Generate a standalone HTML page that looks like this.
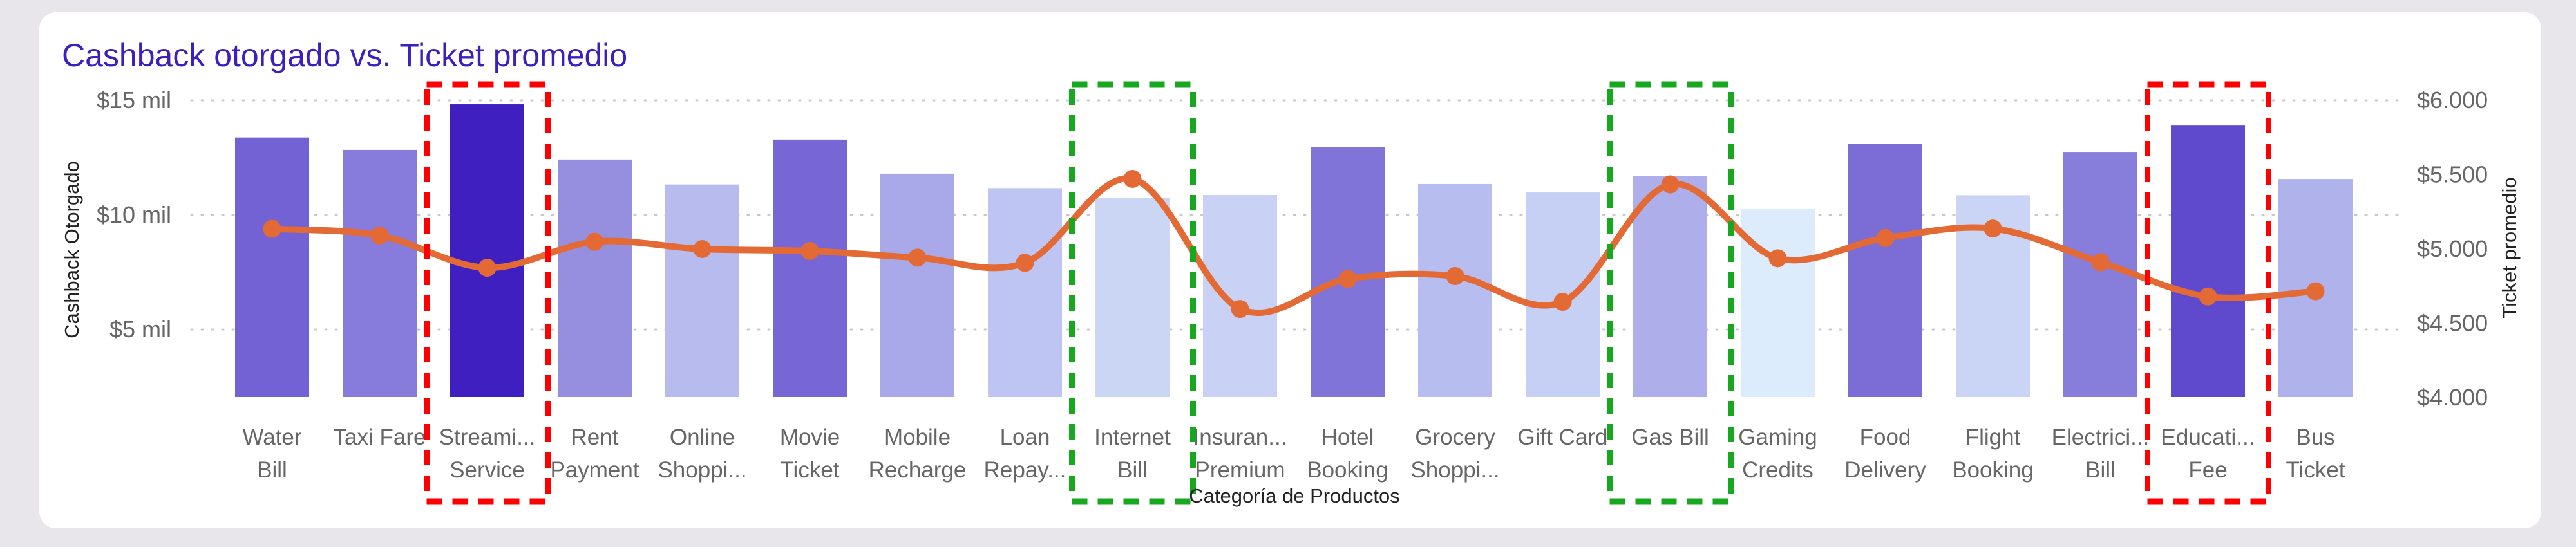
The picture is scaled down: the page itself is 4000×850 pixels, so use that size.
<!DOCTYPE html>
<html><head><meta charset="utf-8"><style>
html,body{margin:0;padding:0;background:#e8e6eb;width:4000px;height:850px;overflow:hidden}
#card{position:absolute;left:61px;top:19px;width:3885px;height:802px;background:#fff;border-radius:26px}
svg{position:absolute;left:0;top:0}
text{font-family:"Liberation Sans Narrow","Liberation Sans",sans-serif}
</style></head><body>
<div id="card"></div>
<svg id="chart" width="4000" height="850">
<text x="96" y="103" font-size="50" fill="#3b1fbf">Cashback otorgado vs. Ticket promedio</text>
<g id="grid"></g><g id="bars"></g><g id="line"></g><g id="labels"></g><g id="boxes"></g>
<text transform="translate(122,388) rotate(-90)" text-anchor="middle" font-size="31" fill="#222">Cashback Otorgado</text>
<text transform="translate(3907,385) rotate(-90)" text-anchor="middle" font-size="31" fill="#222">Ticket promedio</text>
<text x="2010" y="781" text-anchor="middle" font-size="31" fill="#222">Categoría de Productos</text>
</svg>
<script>
const categories=[["Water","Bill"],["Taxi Fare"],["Streami...","Service"],["Rent","Payment"],["Online","Shoppi..."],["Movie","Ticket"],["Mobile","Recharge"],["Loan","Repay..."],["Internet","Bill"],["Insuran...","Premium"],["Hotel","Booking"],["Grocery","Shoppi..."],["Gift Card"],["Gas Bill"],["Gaming","Credits"],["Food","Delivery"],["Flight","Booking"],["Electrici...","Bill"],["Educati...","Fee"],["Bus","Ticket"]];
const cashback=[13.38,12.84,14.83,12.42,11.33,13.29,11.8,11.17,10.74,10.87,12.96,11.35,10.98,11.69,10.28,13.1,10.86,12.75,13.9,11.57];
const ticket=[5136,5091,4874,5049,5000,4987,4942,4907,5472,4597,4799,4818,4645,5435,4938,5074,5138,4911,4681,4716];
const barColors=["#7262d4","#877cdb","#3f1fc0","#968fe0","#b7bbee","#7766d6","#a9a8e8","#bec5f2","#cbd6f5","#c9d2f4","#8174d9","#b7bdef","#c6cff4","#adaeea","#dcecfd","#7b6cd6","#cad4f5","#877ddb","#5f4acd","#b0b3eb"];
const leftTicks=[5,10,15];
const leftTickLabels=["$5 mil","$10 mil","$15 mil"];
const rightTicks=[4000,4500,5000,5500,6000];
const rightTickLabels=["$4.000","$4.500","$5.000","$5.500","$6.000"];
const redBoxes=[2,18];
const greenBoxes=[8,13];
const NS="http://www.w3.org/2000/svg";
function yL(v){return 334-(v-10)*35.6;}
function yR(v){return 618-(v-4000)/500*115.5;}
function xC(i){return 422.5+i*167;}
const BW=115, base=617;
function mk(tag,attrs,parent){const e=document.createElementNS(NS,tag);for(const k in attrs)e.setAttribute(k,attrs[k]);parent.appendChild(e);return e;}
const grid=document.getElementById('grid'),bars=document.getElementById('bars'),line=document.getElementById('line'),labels=document.getElementById('labels'),boxes=document.getElementById('boxes');
leftTicks.forEach((t,i)=>{
  const g=mk('line',{x1:297,x2:3724,y1:yL(t),y2:yL(t),stroke:"#c8c8c8","stroke-width":3,"stroke-dasharray":"2 14","stroke-linecap":"round"},grid);
  
  
  const l=mk('text',{x:266,y:yL(t)+12,"text-anchor":"end","font-size":36,fill:"#666"},labels);
  l.textContent=leftTickLabels[i];
  
  
});
rightTicks.forEach((t,i)=>{
  const l=mk('text',{x:3753,y:yR(t)+12,"font-size":36,fill:"#666"},labels);
  l.textContent=rightTickLabels[i];
  
  
});
cashback.forEach((v,i)=>{
  const r=mk('rect',{x:xC(i)-BW/2,y:yL(v),width:BW,height:base-yL(v),fill:barColors[i]},bars);
  
  
  categories[i].forEach((s,j)=>{
    const t=mk('text',{x:xC(i),y:691+j*51,"text-anchor":"middle","font-size":35,fill:"#666"},labels);
    t.textContent=s;
    
    
  });
});
const pts=ticket.map((v,i)=>[xC(i),yR(v)]);
let d="M"+pts[0][0]+","+pts[0][1];
for(let i=0;i<pts.length-1;i++){
  const p0=pts[Math.max(i-1,0)],p1=pts[i],p2=pts[i+1],p3=pts[Math.min(i+2,pts.length-1)];
  const k=1/6;
  d+=" C"+(p1[0]+(p2[0]-p0[0])*k)+","+(p1[1]+(p2[1]-p0[1])*k)+" "+(p2[0]-(p3[0]-p1[0])*k)+","+(p2[1]-(p3[1]-p1[1])*k)+" "+p2[0]+","+p2[1];
}
const path=mk('path',{d:d,fill:"none",stroke:"#e36a35","stroke-width":10},line);


pts.forEach(p=>{
  const c=mk('circle',{cx:p[0],cy:p[1],r:14,fill:"#e36a35"},line);
  
  
});
function box(i,color){
  const cx=xC(i);
  const b=mk('rect',{x:cx-94,y:131,width:188,height:648,fill:"none",stroke:color,"stroke-width":9,"stroke-dasharray":"24 16"},boxes);
  
  
}
redBoxes.forEach(i=>box(i,"#ff0000"));
greenBoxes.forEach(i=>box(i,"#17a81f"));
</script>
</body></html>
